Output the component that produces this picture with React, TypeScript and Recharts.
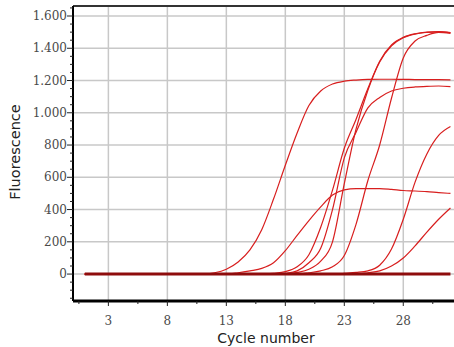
import React from 'react';
import { LineChart, Line, XAxis, YAxis, CartesianGrid, ReferenceLine, Label } from 'recharts';

// PCR amplification curves, fluorescence per cycle
const cycles = [1, 2, 3, 4, 5, 6, 7, 8, 9, 10, 11, 12, 13, 14, 15, 16, 17, 18, 19, 20, 21, 22, 23, 24, 25, 26, 27, 28, 29, 30, 31, 32];

const sampleA = [0, 0, 0, 0, 0, 0, 0, 0, 0, 0, 0, 8, 30, 75, 150, 275, 465, 675, 875, 1045, 1135, 1178, 1196, 1203, 1207, 1208, 1208, 1207, 1206, 1205, 1205, 1204];
const sampleB = [0, 0, 0, 0, 0, 0, 0, 0, 0, 0, 0, 0, 0, 8, 20, 35, 70, 145, 240, 332, 417, 490, 522, 530, 530, 530, 525, 518, 515, 511, 505, 500];
const sampleC = [0, 0, 0, 0, 0, 0, 0, 0, 0, 0, 0, 0, 0, 0, 0, 0, 5, 15, 45, 120, 290, 520, 780, 960, 1150, 1320, 1420, 1468, 1490, 1500, 1503, 1497];
const sampleD = [0, 0, 0, 0, 0, 0, 0, 0, 0, 0, 0, 0, 0, 0, 0, 0, 0, 5, 20, 70, 160, 400, 720, 880, 1030, 1095, 1135, 1152, 1160, 1164, 1166, 1162];
const sampleE = [0, 0, 0, 0, 0, 0, 0, 0, 0, 0, 0, 0, 0, 0, 0, 0, 0, 0, 10, 30, 80, 200, 560, 900, 1140, 1315, 1415, 1465, 1488, 1498, 1502, 1496];
const sampleF = [0, 0, 0, 0, 0, 0, 0, 0, 0, 0, 0, 0, 0, 0, 0, 0, 0, 0, 0, 8, 20, 45, 115, 310, 580, 800, 1090, 1340, 1445, 1480, 1498, 1492];
const sampleG = [0, 0, 0, 0, 0, 0, 0, 0, 0, 0, 0, 0, 0, 0, 0, 0, 0, 0, 0, 0, 0, 0, 5, 10, 20, 55, 155, 340, 570, 745, 860, 915];
const sampleH = [0, 0, 0, 0, 0, 0, 0, 0, 0, 0, 0, 0, 0, 0, 0, 0, 0, 0, 0, 0, 0, 0, 0, 0, 8, 20, 50, 100, 175, 260, 340, 410];
const negControl = [0, 0, 0, 0, 0, 0, 0, 0, 0, 0, 0, 0, 0, 0, 0, 0, 0, 0, 0, 0, 0, 0, 0, 0, 0, 0, 0, 0, 0, 0, 0, 0];

const xTicks = [0.5, 3, 5.5, 8, 10.5, 13, 15.5, 18, 20.5, 23, 25.5, 28, 30.5];
const xMajor = [3, 8, 13, 18, 23, 28];
const yTicks = [-150, -100, -50, 0, 50, 100, 150, 200, 250, 300, 350, 400, 450, 500, 550, 600, 650, 700, 750, 800, 850, 900, 950, 1000, 1050, 1100, 1150, 1200, 1250, 1300, 1350, 1400, 1450, 1500, 1550, 1600, 1650];
const yMajor = [0, 200, 400, 600, 800, 1000, 1200, 1400, 1600];

const series = [sampleA, sampleB, sampleC, sampleD, sampleE, sampleF, sampleG, sampleH];

const data = cycles.map((cycle, i) => {
  const row: Record<string, number> = { cycle, ntc: negControl[i] };
  series.forEach((s, k) => { row[`s${k}`] = s[i]; });
  return row;
});

const fmt = (v: number) =>
  v >= 1000 ? `${Math.floor(v / 1000)}.${String(v % 1000).padStart(3, '0')}` : String(v);

const tickFont = 'DejaVu Serif, serif';
const titleFont = 'DejaVu Sans, sans-serif';

const XTick = (props: any) => {
  const { x, y, payload } = props;
  const major = xMajor.includes(payload.value);
  return (
    <g>
      <line x1={x} x2={x} y1={y} y2={y + (major ? 5 : 3)} stroke="#222" strokeWidth={1} />
      {major && (
        <text x={x} y={y + 24} textAnchor="middle" fontSize={12} fontFamily={tickFont} fill="#4a4a4a">
          {payload.value}
        </text>
      )}
    </g>
  );
};

const YTick = (props: any) => {
  const { x, y, payload } = props;
  const major = yMajor.includes(payload.value);
  return (
    <g>
      <line x1={x - (major ? 6 : 3)} x2={x} y1={y} y2={y} stroke="#222" strokeWidth={1} />
      {major && (
        <text x={x - 6} y={y} dy="0.35em" textAnchor="end" fontSize={12} fontFamily={tickFont} fill="#4a4a4a">
          {fmt(payload.value)}
        </text>
      )}
    </g>
  );
};

export default function App() {
  return (
    <div style={{ position: 'absolute', left: 0, top: 0, background: '#fff' }}>
      <LineChart width={454} height={347} data={data} margin={{ top: 6, right: 0, left: 0, bottom: 0 }}>
        <CartesianGrid stroke="#c8c8c8" strokeWidth={1.5} horizontalValues={yMajor} verticalValues={xMajor} />
        <XAxis
          type="number"
          dataKey="cycle"
          domain={[0, 32.3]}
          ticks={xTicks}
          interval={0}
          allowDataOverflow
          height={46}
          tickSize={0}
          tickMargin={0}
          tickLine={false}
          tick={<XTick />}
          axisLine={{ stroke: '#000', strokeWidth: 3 }}
        >
          <Label
            content={() => (
              <text x={266} y={343} textAnchor="middle" fontSize={14} fontFamily={titleFont} fill="#222">
                Cycle number
              </text>
            )}
          />
        </XAxis>
        <YAxis
          type="number"
          domain={[-167, 1662]}
          ticks={yTicks}
          interval={0}
          allowDataOverflow
          width={73}
          tickSize={0}
          tickMargin={0}
          tickLine={false}
          tick={<YTick />}
          axisLine={{ stroke: '#000', strokeWidth: 2 }}
        >
          <Label
            content={() => (
              <text x={20} y={152} transform="rotate(-90 20 152)" textAnchor="middle" fontSize={14.5} fontFamily={titleFont} fill="#222">
                Fluorescence
              </text>
            )}
          />
        </YAxis>
        <ReferenceLine y={1662} stroke="#333" strokeWidth={2} />
        {series.map((_, k) => (
          <Line
            key={k}
            dataKey={`s${k}`}
            type="monotone"
            stroke="#d81e1e"
            strokeWidth={1.2}
            dot={false}
            isAnimationActive={false}
          />
        ))}
        <Line dataKey="ntc" type="linear" stroke="#8e0c0c" strokeWidth={3} dot={false} isAnimationActive={false} />
      </LineChart>
    </div>
  );
}
